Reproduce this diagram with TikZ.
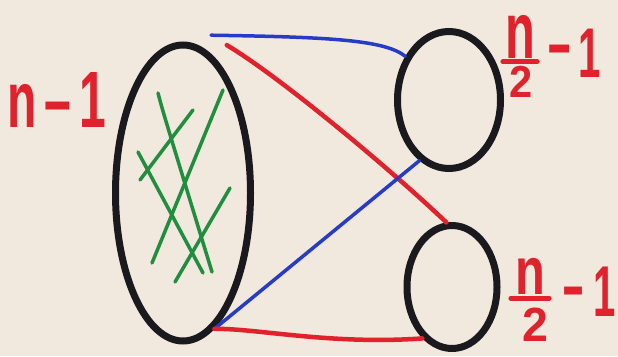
\documentclass[tikz,border=0pt]{standalone}
\usepackage{graphicx}
\usepackage{fontspec}
\newfontfamily\handfont{Liberation Sans}
\usetikzlibrary{shapes.geometric,calc}
\definecolor{paper}{RGB}{241,232,222}
\definecolor{penred}{RGB}{224,34,44}
\definecolor{penblue}{RGB}{38,60,200}
\definecolor{pengreen}{RGB}{32,142,62}
\definecolor{penblack}{RGB}{26,26,30}
% hand lettering is tall and thin
\newcommand{\pen}[3]{\scalebox{#1}[#2]{#3}}

\begin{document}
\begin{tikzpicture}[x=1pt,y=1pt,
    blob/.style={ellipse, draw=penblack, line width=7pt, inner sep=0pt},
    redpen/.style={draw=penred, line width=4.5pt, line cap=round},
    bluepen/.style={draw=penblue, line width=3.5pt, line cap=round},
    greenpen/.style={draw=pengreen, line width=3.5pt, line cap=round},
    barpen/.style={draw=penred, line width=5pt, line cap=round},
    marker/.style={text=penred, inner sep=0pt,
        font=\handfont\bfseries\fontsize{80}{80}\selectfont}]
        % paper
        \path[fill = paper] (0,0) rectangle (618,-356);
        \useasboundingbox (0,0) rectangle (618,-356);
        % sets
        \node[blob, minimum width=135pt, minimum height=296pt](big) at (183,-193){};
        \node[blob, minimum width=103pt, minimum height=137pt](topc) at (449,-100){};
        \node[blob, minimum width=90pt, minimum height=123pt](botc) at (452,-287){};
        % pen starts above the big set
        \coordinate(tipblue) at ($(big.80)+(3,16)$);
        \coordinate(tipred) at ($(big.73)+(5,21)$);
        % edges inside the big set
        \path[greenpen](158,-93) .. controls (163,-112) .. (212,-272);
        \path[greenpen](193,-110) to (140,-180);
        \path[greenpen](223,-90) to (152,-263);
        \path[greenpen](138,-152) to (203,-273);
        \path[greenpen](230,-188) to (175,-282);
        % edges between the sets
        \path[bluepen](tipblue) .. controls (330,-37) and (385,-40) .. (topc.135);
        \path[redpen](tipred) .. controls (285,-80) and (400,-178) .. (botc.95);
        \path[bluepen](topc.244) to (big.-77);
        \path[redpen](big.-77) .. controls (255,-328) and (330,-345) .. (botc.240);
        % sizes
        \node[marker](lblbig) at (57,-100){\pen{0.6}{1}{n\,–\,1}};
        % n/2 - 1 at the top set
        \node[marker](numtop) at (520,-37){\pen{0.61}{1}{n}};
        \node[marker](dentop) at (521,-82){\pen{0.52}{0.56}{2}};
        \node[marker](dashtop) at (560,-58){\pen{0.5}{1}{–}};
        \node[marker](onetop) at (590,-53){\pen{0.5}{0.88}{1}};
        \path[barpen]($(numtop.south west)+(-2,-3)$) to ($(numtop.south east)+(2,-3)$);
        % n/2 - 1 at the bottom set
        \node[marker](numbot) at (530,-276){\pen{0.61}{0.84}{n}};
        \node[marker](denbot) at (535,-325){\pen{0.58}{0.6}{2}};
        \node[marker](dashbot) at (574,-300){\pen{0.45}{1}{–}};
        \node[marker](onebot) at (605,-292){\pen{0.5}{0.9}{1}};
        \path[barpen]($(numbot.south west)+(-4,-4)$) to ($(numbot.south east)+(4,-4)$);
    \end{tikzpicture}
\end{document}
